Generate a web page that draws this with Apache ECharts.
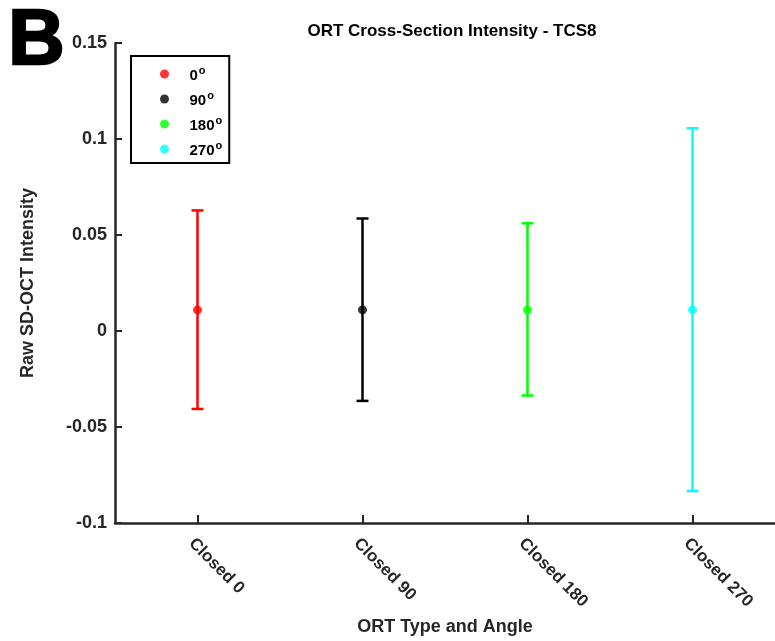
<!DOCTYPE html>
<html>
<head>
<meta charset="utf-8">
<script src="https://cdn.jsdelivr.net/npm/echarts@6/dist/echarts.min.js"></script>
<style>
  html, body { margin: 0; padding: 0; background: #fff; }
  #main { width: 775px; height: 641px; }
</style>
</head>
<body>
<div id="main"></div>
<script>
// 数据
var categories = ['Closed 0', 'Closed 90', 'Closed 180', 'Closed 270'];
var angles = ['0', '90', '180', '270'];
var means = [0.011, 0.011, 0.011, 0.011];
var upper = [0.0628, 0.0586, 0.0561, 0.1056];
var lower = [-0.0406, -0.0364, -0.0336, -0.0833];
var colors = ['#ff0000', '#000000', '#00ff00', '#00ffff'];

var myChart = echarts.init(document.getElementById('main'));
var font = 'Liberation Sans, Arial, sans-serif';
var axisColor = '#262626';

var series = [];
for (let i = 0; i < categories.length; i++) {
  // 误差棒
  series.push({
    type: 'custom',
    name: angles[i] + '_err',
    data: [[i, lower[i], upper[i]]],
    renderItem: function (params, api) {
      var x = api.value(0);
      var lo = api.coord([x, api.value(1)]);
      var hi = api.coord([x, api.value(2)]);
      var half = 6;
      var style = { stroke: colors[i], lineWidth: 2.5 };
      return {
        type: 'group',
        children: [
          { type: 'line', shape: { x1: lo[0], y1: lo[1], x2: hi[0], y2: hi[1] }, style: style },
          { type: 'line', shape: { x1: hi[0] - half, y1: hi[1], x2: hi[0] + half, y2: hi[1] }, style: style },
          { type: 'line', shape: { x1: lo[0] - half, y1: lo[1], x2: lo[0] + half, y2: lo[1] }, style: style }
        ]
      };
    },
    z: 2
  });
  // 均值点
  series.push({
    type: 'scatter',
    name: angles[i],
    data: [[i, means[i]]],
    symbol: 'circle',
    symbolSize: 9,
    itemStyle: { color: colors[i] },
    z: 3
  });
}

var option = {
  backgroundColor: '#fff',
  animation: false,
  title: {
    text: 'ORT Cross-Section Intensity - TCS8',
    left: 447,
    top: 18,
    textAlign: 'center',
    textStyle: { fontFamily: font, fontSize: 17, fontWeight: 'bold', color: '#000' }
  },
  graphic: [{
    type: 'text',
    left: 7,
    top: 2,
    style: { text: 'B', fontFamily: font, fontSize: 78, fontWeight: 'bold', fill: '#000', stroke: '#000', lineWidth: 2.5 }
  }],
  legend: {
    data: angles,
    orient: 'vertical',
    left: 131,
    top: 56,
    padding: [9, 7, 5, 29],
    itemGap: 7,
    itemWidth: 40,
    itemHeight: 9,
    icon: 'circle',
    borderColor: '#000',
    borderWidth: 2,
    formatter: function (name) { return '{a|' + name + '}{s|o}'; },
    textStyle: {
      fontFamily: font,
      fontWeight: 'bold',
      fontSize: 15,
      color: '#000',
      rich: {
        a: { fontFamily: font, fontWeight: 'bold', fontSize: 15, lineHeight: 18, color: '#000', verticalAlign: 'bottom' },
        s: { fontFamily: font, fontWeight: 'bold', fontSize: 11, lineHeight: 18, color: '#000', verticalAlign: 'top', padding: [0, 0, 6, 1] }
      }
    }
  },
  grid: { left: 115, right: -5, top: 43, bottom: 115, containLabel: false },
  xAxis: {
    type: 'category',
    data: categories,
    boundaryGap: true,
    name: 'ORT Type and Angle',
    nameLocation: 'middle',
    nameGap: 95,
    nameTextStyle: { fontFamily: font, fontSize: 18, fontWeight: 'bold', color: '#262626' },
    axisLine: { onZero: false, lineStyle: { color: axisColor, width: 2.5 } },
    axisTick: { show: true, inside: true, alignWithLabel: true, length: 8, lineStyle: { color: axisColor, width: 2 } },
    axisLabel: {
      rotate: -45,
      margin: 12,
      verticalAlign: 'top',
      fontFamily: font, fontSize: 17, fontWeight: 'bold', color: '#262626'
    },
    splitLine: { show: false }
  },
  yAxis: {
    type: 'value',
    min: -0.1,
    max: 0.15,
    interval: 0.05,
    name: 'Raw SD-OCT Intensity',
    nameLocation: 'middle',
    nameGap: 78,
    nameTextStyle: { fontFamily: font, fontSize: 18, fontWeight: 'bold', color: '#262626' },
    axisLine: { show: true, lineStyle: { color: axisColor, width: 2.5 } },
    axisTick: { show: true, inside: true, length: 7, lineStyle: { color: axisColor, width: 2 } },
    axisLabel: {
      margin: 8,
      fontFamily: font, fontSize: 18, fontWeight: 'bold', color: '#262626',
      formatter: function (v) { return String(Math.round(v * 100) / 100); }
    },
    splitLine: { show: false }
  },
  series: series
};

myChart.setOption(option);
</script>
</body>
</html>
